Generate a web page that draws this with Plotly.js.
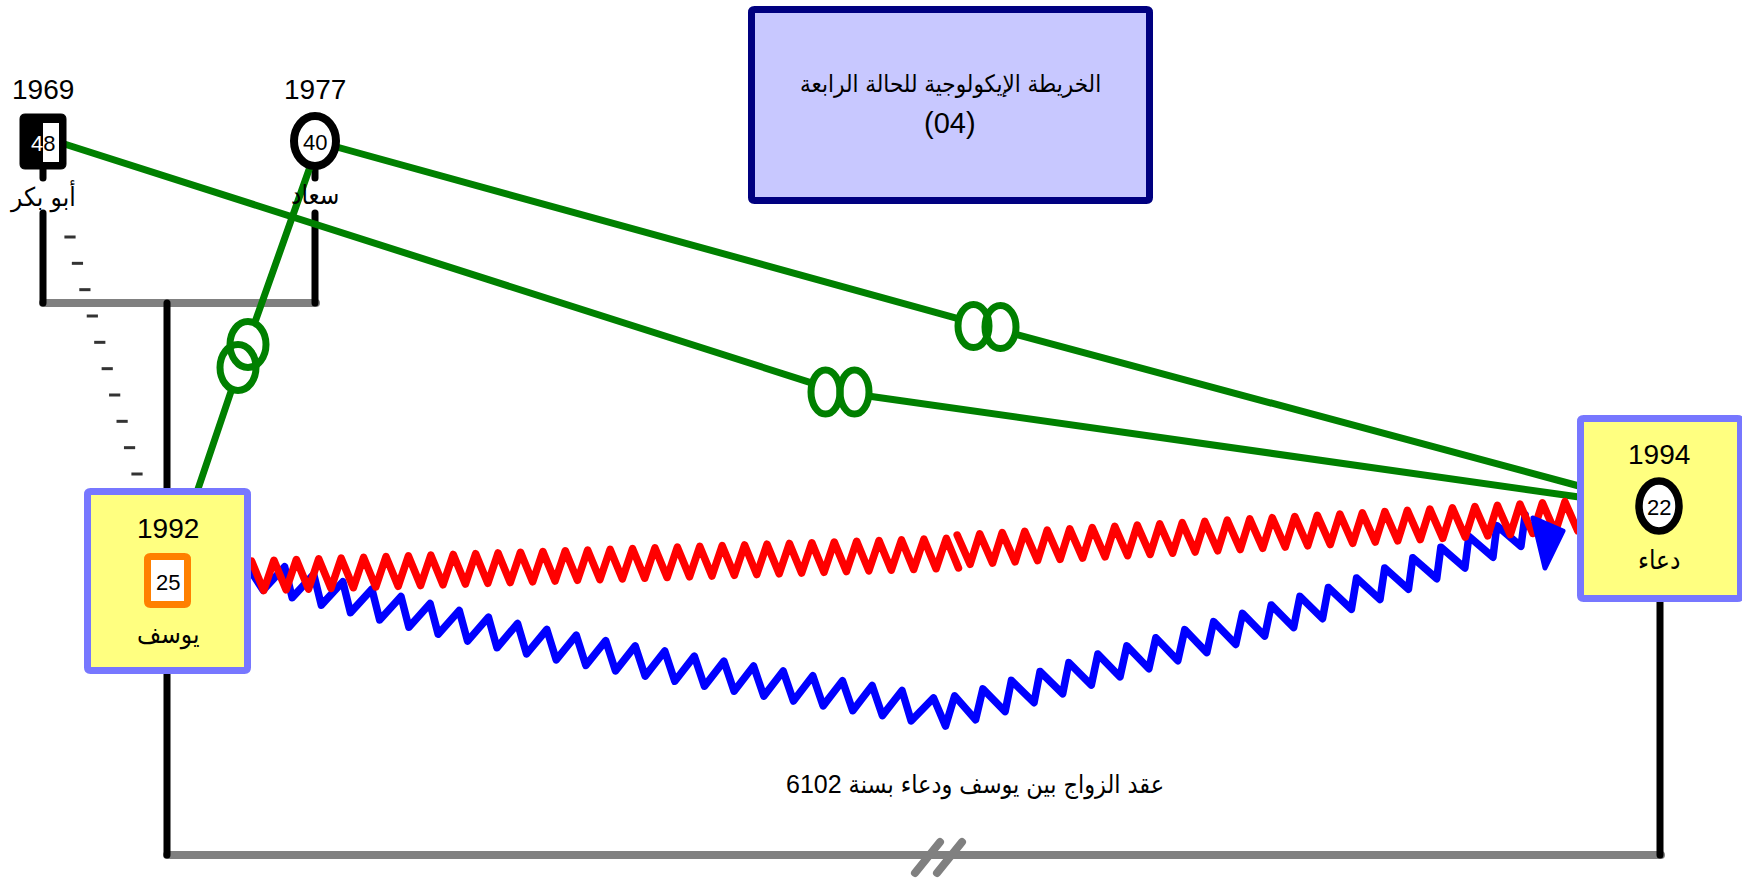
<!DOCTYPE html>
<html><head><meta charset="utf-8">
<script src="https://cdn.plot.ly/plotly-3.0.1.min.js"></script>
<style>
html,body{margin:0;padding:0;background:#fff;overflow:hidden}
#chart{width:1742px;height:882px}
.js-line{stroke-linejoin:round!important;stroke-linecap:round!important}
</style></head><body><div id="chart"></div>
<script>
// ---------------- data ----------------
const names      = ['أبو بكر', 'سعاد', 'يوسف', 'دعاء'];
const birthYears = [1969, 1977, 1992, 1994];
const ages       = [48, 40, 25, 22];
const sexes      = ['male', 'female', 'male', 'female'];
const relFrom    = [0, 1, 1, 2, 2];
const relTo      = [3, 3, 2, 3, 3];
const relKind    = ['bond', 'bond', 'bond', 'conflict', 'hostile'];
const titleLines = ['الخريطة الإيكولوجية للحالة الرابعة', '(04)'];
const marriageNote = 'عقد الزواج بين يوسف ودعاء بسنة 6102';

// ---------------- layout geometry (pixel space) ----------------
const W = 1742, H = 882;
const FONT = 'Liberation Sans, DejaVu Sans Condensed, DejaVu Sans, sans-serif';
const sym = [{x:43,y:141.5},{x:315,y:141},{x:167.5,y:580.5},{x:1659,y:506}];
const symStyle = {
  0:{kind:'filledSquare', box:[20,114,66,169], inner:[43,123,59,162]},
  1:{kind:'circle', rx:21, ry:25, color:'#000', width:8},
  2:{kind:'square', box:[147.5,556.5,187.5,604.5], color:'#ff8000', width:7},
  3:{kind:'circle', rx:20, ry:25, color:'#000', width:7.5}
};
const hiBox = {2:[87.5,491.5,247.5,670.5], 3:[1580.5,418.5,1740.5,598.5]};
const titleBox = [751.5,9.5,1149.5,200.5];
const yearDy = -52, nameDy = 54, ageDy = 1.5;

const blackSegs = [[[43,169],[43,178]],[[43,213],[43,303]],[[315,169],[315,178]],[[315,213],[315,303]],
                   [[167,303],[167,489]],[[167,673],[167,855]],[[1660,601],[1660,855]]];
const graySegs = [[[43,303],[316,303]],[[167,855],[1661,855]],[[915,873],[940,842]],[[937,873],[962,842]]];
const dashLine = {a:[70,237], b:[137,474], n:10};

// per relation route geometry
const route = [
  {start:[55,141], loop:[840,392], end:[1579,497], gap:30, off:[14.5,0], rx:14.5, ry:22},
  {start:[315,141], loop:[987,326.5], end:[1579,486], gap:30, off:[13.5,0.5], rx:15.5, ry:21.5},
  {start:[316,150], loop:[243,356], end:[198,489], gap:38, off:[-5,11.5], rx:18, ry:23},
  {segments:[[[252,576],[958,553]],[[958,550],[1577,516]]], half:11.25, amp:15},
  {anchors:[[252,573],[533,641],[892,703],[950,711],[1100,668],[1335,600],[1530,528]], half:15, amp:14,
   arrow:[[1533,518],[1563,531],[1545,568]]}
];
const kindColor = {bond:'#008000', conflict:'#ff0000', hostile:'#0000ff'};

// ---------------- helpers ----------------
function polyLen(P){const c=[0];for(let i=1;i<P.length;i++)c.push(c[i-1]+Math.hypot(P[i][0]-P[i-1][0],P[i][1]-P[i-1][1]));return c;}
function pointAt(P,c,s){let i=1;while(i<P.length-1&&c[i]<s)i++;const seg=(c[i]-c[i-1])||1;const t=(s-c[i-1])/seg;
  const dx=(P[i][0]-P[i-1][0])/seg, dy=(P[i][1]-P[i-1][1])/seg;
  return [P[i-1][0]+(P[i][0]-P[i-1][0])*t, P[i-1][1]+(P[i][1]-P[i-1][1])*t, -dy, dx];}
function smooth(A,n){const out=[];for(let i=0;i<A.length-1;i++){const p0=A[Math.max(i-1,0)],p1=A[i],p2=A[i+1],p3=A[Math.min(i+2,A.length-1)];
  for(let k=0;k<n;k++){const t=k/n,t2=t*t,t3=t2*t;out.push([0,1].map(j=>0.5*((2*p1[j])+(-p0[j]+p2[j])*t+(2*p0[j]-5*p1[j]+4*p2[j]-p3[j])*t2+(-p0[j]+3*p1[j]-3*p2[j]+p3[j])*t3)));}}
  out.push(A[A.length-1]);return out;}
function zigzag(P,half,amp,mode){const c=polyLen(P),L=c[c.length-1];const n=Math.max(1,Math.round(L/half));const xs=[],ys=[];
  for(let k=0;k<=n;k++){const r=pointAt(P,c,k*L/n);let o;
    if(mode==='peak')o=(k%2===0?-amp:amp);else o=(k===0?0:(k%2===1?amp:-amp));
    xs.push(r[0]+o*r[2]);ys.push(r[1]+o*r[3]);}
  return [xs,ys];}
function unit(a,b){const d=Math.hypot(b[0]-a[0],b[1]-a[1]);return [(b[0]-a[0])/d,(b[1]-a[1])/d];}
function rr(x0,y0,x1,y1,r){return `M${x0+r},${y0} L${x1-r},${y0} Q${x1},${y0} ${x1},${y0+r} L${x1},${y1-r} Q${x1},${y1} ${x1-r},${y1} L${x0+r},${y1} Q${x0},${y1} ${x0},${y1-r} L${x0},${y0+r} Q${x0},${y0} ${x0+r},${y0} Z`;}
function segTrace(segs,color,width){const x=[],y=[];segs.forEach(s=>{s.forEach(p=>{x.push(p[0]);y.push(p[1]);});x.push(null);y.push(null);});
  return {type:'scatter',mode:'lines',x,y,line:{color,width},hoverinfo:'skip'};}

// ---------------- traces ----------------
const traces = [];
traces.push(segTrace(graySegs.slice(0,2),'#808080',8));
traces.push(segTrace(blackSegs,'#000',7));
{const dx=[],dy=[];for(let i=0;i<dashLine.n;i++){const t=i/(dashLine.n-1);dx.push(dashLine.a[0]+(dashLine.b[0]-dashLine.a[0])*t);dy.push(dashLine.a[1]+(dashLine.b[1]-dashLine.a[1])*t);}
 traces.push({type:'scatter',mode:'markers',x:dx,y:dy,marker:{symbol:'line-ew',size:8,line:{color:'#333',width:3}},hoverinfo:'skip'});}
traces.push(segTrace(graySegs.slice(2),'#808080',8));

const shapes = [];
const loopShapes = [];
let blueTrace=null, arrowTrace=null; const redTraces=[];
relKind.forEach((kind,i)=>{
  const g = route[i], col = kindColor[kind];
  if(kind==='bond'){
    const d1=unit(g.start,g.loop), d2=unit(g.loop,g.end);
    const a=[g.loop[0]-g.gap*d1[0], g.loop[1]-g.gap*d1[1]], b=[g.loop[0]+g.gap*d2[0], g.loop[1]+g.gap*d2[1]];
    traces.push(segTrace([[g.start,a],[b,g.end]],col,7));
    [-1,1].forEach(s=>{const cx=g.loop[0]+s*g.off[0], cy=g.loop[1]+s*g.off[1];
      loopShapes.push({type:'circle',xref:'x',yref:'y',x0:cx-g.rx,x1:cx+g.rx,y0:cy-g.ry,y1:cy+g.ry,line:{color:col,width:7},fillcolor:'rgba(0,0,0,0)',layer:'above'});});
  } else if(kind==='conflict'){
    g.segments.forEach(sg=>{const z=zigzag(sg,g.half,g.amp,'peak');redTraces.push({type:'scatter',mode:'lines',x:z[0],y:z[1],line:{color:col,width:7.5},hoverinfo:'skip'});});
  } else {
    const P=smooth(g.anchors,30);const z=zigzag(P,g.half,g.amp,'mid');
    blueTrace={type:'scatter',mode:'lines',x:z[0],y:z[1],line:{color:col,width:7.5},hoverinfo:'skip'};
    arrowTrace={type:'scatter',mode:'lines',x:g.arrow.map(p=>p[0]).concat([g.arrow[0][0]]),y:g.arrow.map(p=>p[1]).concat([g.arrow[0][1]]),
      fill:'toself',fillcolor:col,line:{color:col,width:5},hoverinfo:'skip'};
  }
});
traces.push(blueTrace); redTraces.forEach(t=>traces.push(t)); traces.push(arrowTrace);

// ---------------- shapes ----------------
shapes.push({type:'path',path:rr(...titleBox,3),line:{color:'#000080',width:7},fillcolor:'#c8c8ff',layer:'above'});
Object.keys(hiBox).forEach(k=>shapes.push({type:'path',path:rr(...hiBox[k],3),line:{color:'#7777ff',width:7},fillcolor:'#ffff80',layer:'above'}));
names.forEach((n,i)=>{const s=symStyle[i];
  if(s.kind==='filledSquare'){
    shapes.push({type:'path',path:rr(...s.box,5),line:{color:'#000',width:1},fillcolor:'#000',layer:'above'});
    shapes.push({type:'rect',x0:s.inner[0],y0:s.inner[1],x1:s.inner[2],y1:s.inner[3],line:{width:0},fillcolor:'#fff',layer:'above'});
  } else if(s.kind==='square'){
    shapes.push({type:'path',path:rr(...s.box,3),line:{color:s.color,width:s.width},fillcolor:'#fff',layer:'above'});
  } else {
    shapes.push({type:'circle',x0:sym[i].x-s.rx,x1:sym[i].x+s.rx,y0:sym[i].y-s.ry,y1:sym[i].y+s.ry,line:{color:s.color,width:s.width},fillcolor:'#fff',layer:'above'});
  }
});
loopShapes.forEach(s=>shapes.push(s));

// ---------------- annotations ----------------
function ann(text,x,y,size){return {text:String(text),x,y,xref:'x',yref:'y',showarrow:false,xanchor:'center',yanchor:'middle',font:{family:FONT,size,color:'#000'}};}
const annotations=[];
names.forEach((n,i)=>{
  annotations.push(ann(birthYears[i],sym[i].x,sym[i].y+yearDy,28));
  const ageTxt = symStyle[i].kind==='filledSquare'
    ? '<span style="color:#fff">'+String(ages[i])[0]+'</span>'+String(ages[i]).slice(1) : String(ages[i]);
  annotations.push(ann(ageTxt,sym[i].x,sym[i].y+ageDy,22));
  annotations.push(ann(n,sym[i].x,sym[i].y+nameDy,26));
});
annotations.push(ann(titleLines[0],950,84,24));
annotations.push(ann(titleLines[1],950,123,29));
annotations.push(ann(marriageNote,975,785,25));

Plotly.newPlot('chart',traces,{
  width:W,height:H,margin:{l:0,r:0,t:0,b:0},paper_bgcolor:'#fff',plot_bgcolor:'#fff',showlegend:false,
  xaxis:{range:[0,W],visible:false,fixedrange:true},
  yaxis:{range:[H,0],visible:false,fixedrange:true},
  shapes,annotations
},{staticPlot:true,displayModeBar:false});
</script></body></html>
